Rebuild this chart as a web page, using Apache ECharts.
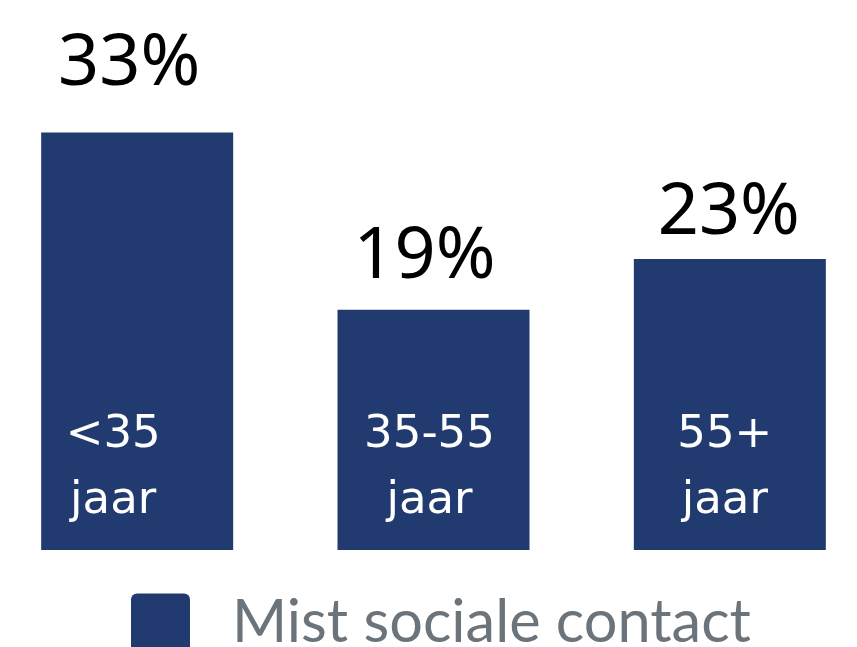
<!DOCTYPE html>
<html>
<head>
<meta charset="utf-8">
<script src="https://cdn.jsdelivr.net/npm/echarts@6/dist/echarts.min.js"></script>
<style>
  html, body { margin: 0; padding: 0; background: #fff; }
  #chart { width: 857px; height: 647px; }
</style>
</head>
<body>
<div id="chart"></div>
<script>
const categories = ['<35 jaar', '35-55 jaar', '55+ jaar']
const values = [33, 19, 23]
const seriesName = 'Mist sociale contact'

// small per-bar nudges so the labels sit where the original put them
const valueLabelDistance = [32, 16, 10]
const valueLabelShift = [-8, -9, -1]
const catLabelShift = [-24, -4, -5]

const barColor = '#213a6f'

const chart = echarts.init(document.getElementById('chart'))

chart.setOption({
  backgroundColor: '#fff',
  animation: false,
  grid: { left: -11, width: 889, top: 44, bottom: 97, outerBoundsMode: 'none', containLabel: false },
  legend: {
    data: [seriesName],
    left: 131,
    top: 593,
    padding: 0,
    itemWidth: 59,
    itemHeight: 59,
    icon: 'path://M6,0 H53 A6,6 0 0 1 59,6 V53 A6,6 0 0 1 53,59 H6 A6,6 0 0 1 0,53 V6 A6,6 0 0 1 6,0 Z',
    textStyle: {
      fontFamily: 'Lato',
      fontSize: 59.5,
      color: '#6b737b',
      padding: [4, 0, 0, 37],
    },
  },
  xAxis: {
    type: 'category',
    data: categories,
    show: false,
  },
  yAxis: {
    type: 'value',
    min: 0,
    max: 40,
    show: false,
  },
  series: [
    {
      name: seriesName,
      type: 'bar',
      barWidth: 192,
      barGap: '-100%',
      itemStyle: { color: barColor },
      data: values.map((v, i) => ({
        value: v,
        label: {
          distance: valueLabelDistance[i],
          offset: [valueLabelShift[i], 0],
        },
      })),
      label: {
        show: true,
        position: 'top',
        formatter: p => p.value + '%',
        fontFamily: 'Noto Sans',
        fontSize: 72,
        lineHeight: 72,
        color: '#000',
      },
      z: 2,
    },
    {
      name: 'labels',
      type: 'bar',
      barWidth: 192,
      barGap: '-100%',
      itemStyle: { color: 'rgba(0,0,0,0)' },
      data: values.map((v, i) => ({
        value: v,
        label: { offset: [catLabelShift[i], 0] },
      })),
      label: {
        show: true,
        position: 'insideBottom',
        distance: 16,
        formatter: p => p.name.replace(' ', '\n'),
        fontFamily: 'DejaVu Sans',
        fontSize: 45,
        lineHeight: 66,
        color: '#fff',
        align: 'center',
      },
      z: 3,
    },
  ],
})
</script>
</body>
</html>
